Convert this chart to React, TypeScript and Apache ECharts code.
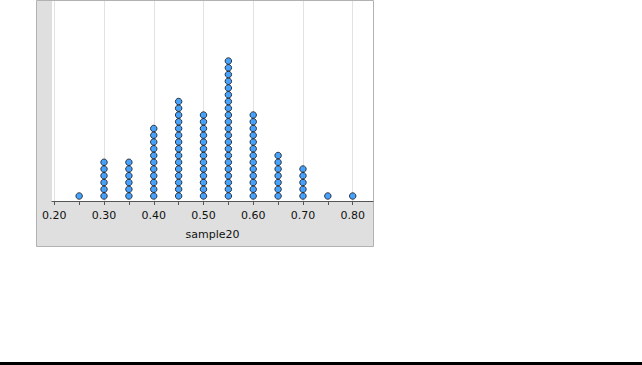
import React, { useEffect, useRef } from "react";
import * as echarts from "echarts";

const binValues = [0.25, 0.3, 0.35, 0.4, 0.45, 0.5, 0.55, 0.6, 0.65, 0.7, 0.75, 0.8];
const binCounts = [1, 6, 6, 11, 15, 13, 21, 13, 7, 5, 1, 1];
const tickValues = [0.2, 0.25, 0.3, 0.35, 0.4, 0.45, 0.5, 0.55, 0.6, 0.65, 0.7, 0.75, 0.8];
const labelValues = [0.2, 0.3, 0.4, 0.5, 0.6, 0.7, 0.8];
const axisName = "sample20";

export default function App() {
  const ref = useRef<HTMLDivElement>(null);
  useEffect(() => {
    if (!ref.current) return;
    const chart = echarts.init(ref.current, null, { renderer: "svg" });
    const points: number[][] = [];
    binValues.forEach((v, bi) => {
      for (let i = 0; i < binCounts[bi]; i++) points.push([v, i]);
    });
    chart.setOption({
      animation: false,
      textStyle: { fontFamily: "DejaVu Sans" },
      graphic: [
        {
          type: "rect",
          z: -10,
          shape: { x: 36.5, y: 0.5, width: 337, height: 246 },
          style: { fill: "#dfdfdf", stroke: "#b2b2b2", lineWidth: 1 },
        },
        {
          type: "rect",
          z: -9,
          shape: { x: 52, y: 1, width: 321, height: 200 },
          style: { fill: "#ffffff" },
        },
        {
          type: "rect",
          shape: { x: 0, y: 362, width: 642, height: 3 },
          style: { fill: "#000000" },
        },
      ],
      grid: { left: 52, right: 269, top: 1, bottom: 164 },
      xAxis: {
        type: "value",
        min: 0.1954,
        max: 0.8408,
        name: axisName,
        nameLocation: "middle",
        nameGap: 28,
        nameTextStyle: { fontSize: 11, color: "#111", fontFamily: "DejaVu Sans" },
        axisLine: { show: true, onZero: false, lineStyle: { color: "#555", width: 1 } },
        axisTick: {
          show: true,
          customValues: tickValues,
          length: 4,
          lineStyle: { color: "#555" },
        },
        axisLabel: {
          customValues: labelValues,
          formatter: (v: number) => v.toFixed(2),
          fontSize: 11,
          color: "#111",
          margin: 9,
          fontFamily: "DejaVu Sans",
        },
        splitLine: { show: false },
      },
      yAxis: {
        type: "value",
        min: -0.74,
        max: 28.89,
        show: false,
        splitLine: { show: false },
      },
      series: [
        {
          type: "line",
          data: [],
          z: 0,
          markLine: {
            silent: true,
            z: 0,
            symbol: ["none", "none"],
            label: { show: false },
            lineStyle: { color: "#e2e2e2", width: 1, type: "solid" },
            data: labelValues.map((v) => ({ xAxis: v })),
          },
        },
        {
          type: "scatter",
          data: points,
          symbol: "circle",
          symbolSize: 6.5,
          z: 5,
          itemStyle: { color: "#1a8cff", borderColor: "#111", borderWidth: 1 },
        },
      ],
    });
    return () => chart.dispose();
  }, []);
  return (
    <div
      ref={ref}
      style={{ position: "fixed", left: 0, top: 0, width: 642, height: 365, background: "#fff" }}
    />
  );
}
